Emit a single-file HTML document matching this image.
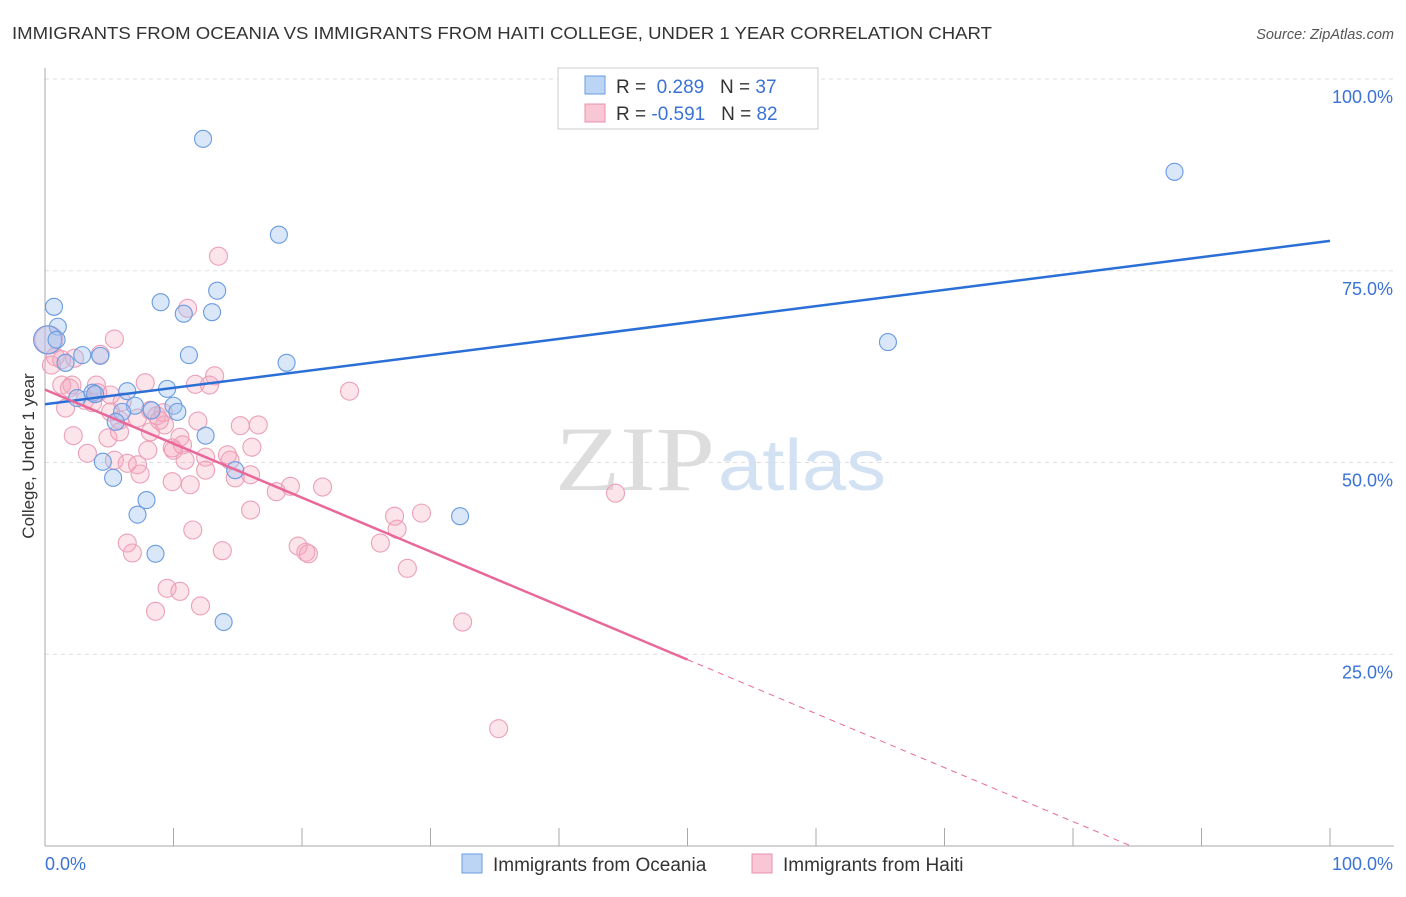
<!DOCTYPE html>
<html><head><meta charset="utf-8"><style>
body{margin:0;background:#fff;font-family:"Liberation Sans",sans-serif;}
svg text{font-family:"Liberation Sans",sans-serif;}
</style></head><body>
<svg id="chart" width="1406" height="892">
<text x="12" y="39" font-size="17.5" fill="#333" textLength="980" lengthAdjust="spacingAndGlyphs">IMMIGRANTS FROM OCEANIA VS IMMIGRANTS FROM HAITI COLLEGE, UNDER 1 YEAR CORRELATION CHART</text>
<text x="1394" y="39" font-size="14.5" fill="#555" font-style="italic" text-anchor="end">Source: ZipAtlas.com</text>
<g id="grid"></g>
<g><text x="555" y="490" font-size="92" fill="#ddd" textLength="160" lengthAdjust="spacingAndGlyphs" style="font-family:'Liberation Serif',serif">ZIP</text><text x="718" y="490" font-size="72" fill="#d3e2f3" textLength="168" lengthAdjust="spacingAndGlyphs">atlas</text></g>
<g id="pts"></g>
<g id="trend"></g>
<text transform="translate(34,456) rotate(-90)" font-size="17" fill="#333" text-anchor="middle">College, Under 1 year</text>
<g>
<rect x="558" y="68" width="260" height="61" fill="#fff" stroke="#ccc"/>
<rect x="585" y="76" width="20" height="18" fill="#bcd5f5" stroke="#6a9be0"/>
<rect x="585" y="104" width="20" height="18" fill="#f9c6d6" stroke="#e890ab"/>
<text x="616" y="93" font-size="19" fill="#333">R = <tspan fill="#3a72d8">&#160;0.289</tspan>&#160;&#160;&#160;N = <tspan fill="#3a72d8">37</tspan></text>
<text x="616" y="120" font-size="19" fill="#333">R = <tspan fill="#3a72d8">-0.591</tspan>&#160;&#160;&#160;N = <tspan fill="#3a72d8">82</tspan></text>
</g>
<g>
<rect x="462" y="854" width="20" height="19" fill="#bcd5f5" stroke="#6a9be0"/>
<text x="493" y="871" font-size="19" fill="#333">Immigrants from Oceania</text>
<rect x="752" y="854" width="20" height="19" fill="#f9c6d6" stroke="#e890ab"/>
<text x="783" y="871" font-size="19" fill="#333">Immigrants from Haiti</text>
</g>
</svg>
<script>
const blueX=[12.3,87.9,18.2,0.7,1.0,9.0,13.4,10.8,13.0,0.2,2.9,4.3,1.6,11.2,18.8,6.4,9.5,2.5,3.7,7.0,10.0,6.0,10.3,5.5,8.3,12.5,14.8,4.5,5.3,7.9,7.2,32.3,8.6,13.9,65.6,3.9,0.9];
const blueY=[92.2,87.9,79.7,70.3,67.7,70.9,72.4,69.4,69.6,66.0,64.0,63.9,63.0,64.0,63.0,59.3,59.6,58.4,59.1,57.4,57.4,56.6,56.6,55.3,56.8,53.5,49.0,50.1,48.0,45.1,43.2,43.0,38.1,29.2,65.7,58.9,66.0];
const pinkX=[13.5,11.1,5.4,0.3,0.8,2.3,4.3,0.5,1.3,2.1,4.0,5.1,3.1,7.8,11.7,13.2,12.8,23.7,1.6,3.7,5.1,6.0,8.2,8.7,9.2,5.8,7.2,9.3,11.9,16.6,15.2,2.2,4.9,5.8,8.2,10.5,3.3,5.4,6.4,7.2,8.0,10.0,9.9,10.9,12.5,14.4,16.1,7.4,12.5,14.8,9.9,11.3,19.1,21.6,18.0,16.0,27.2,29.3,27.4,11.5,6.4,6.8,13.8,19.7,20.3,20.5,26.1,28.2,9.5,10.5,8.6,12.1,32.5,44.4,35.3,1.9,4.1,8.9,14.2,16.0,10.7,1.3];
const pinkY=[76.9,70.1,66.1,66.0,63.8,63.6,64.1,62.7,60.1,60.1,60.1,58.8,58.1,60.4,60.2,61.3,60.1,59.3,57.1,57.8,56.6,57.9,56.8,56.1,56.5,55.5,55.8,54.9,55.4,54.9,54.8,53.5,53.2,54.0,54.0,53.3,51.2,50.3,49.9,49.7,51.6,51.6,51.9,50.3,50.7,50.3,52.0,48.5,49.0,48.0,47.5,47.1,46.9,46.8,46.2,43.8,43.0,43.4,41.3,41.2,39.5,38.2,38.5,39.1,38.3,38.1,39.5,36.2,33.6,33.2,30.6,31.3,29.2,46.0,15.3,59.7,59.1,55.5,51.0,48.4,52.3,63.4];
const blueTrend=[57.6,78.9];
const pinkTrend=[59.5,-0.704];
const yTicks=[100,75,50,25];
const xTickLabels=["0.0%","100.0%"];

const NS="http://www.w3.org/2000/svg";
const X=v=>45+v*12.85, Y=v=>846-v*7.67;
function mk(tag,attrs,parent){const e=document.createElementNS(NS,tag);for(const k in attrs)e.setAttribute(k,attrs[k]);parent.appendChild(e);return e;}
const grid=document.getElementById('grid');
yTicks.forEach(t=>{
  const l=mk('line',{x1:45,x2:1394,y1:Y(t),y2:Y(t),stroke:'#ddd','stroke-dasharray':'4,4'},grid);
  
  
  const tx=mk('text',{x:1393,y:Y(t)+24,'font-size':18,fill:'#3a72d8','text-anchor':'end'},grid);
  tx.textContent=t.toFixed(1)+'%';
  
  
});
mk('line',{x1:45,x2:45,y1:68,y2:846,stroke:'#aaa'},grid);
mk('line',{x1:45,x2:1394,y1:846,y2:846,stroke:'#aaa'},grid);
for(let i=0;i<=10;i++){mk('line',{x1:X(i*10),x2:X(i*10),y1:828,y2:846,stroke:'#aaa'},grid);}
const xl=mk('text',{x:45,y:870,'font-size':18,fill:'#3a72d8'},grid);xl.textContent=xTickLabels[0];


const xr=mk('text',{x:1393,y:870,'font-size':18,fill:'#3a72d8','text-anchor':'end'},grid);xr.textContent=xTickLabels[1];



const pts=document.getElementById('pts');
pinkX.forEach((v,i)=>{
  const c=mk('circle',{cx:X(v),cy:Y(pinkY[i]),r:(v<0.6&&pinkY[i]>65)?14:9,fill:'rgba(245,165,190,0.3)',stroke:'#ec9fb8','stroke-width':1.1},pts);
  
  
});
blueX.forEach((v,i)=>{
  const c=mk('circle',{cx:X(v),cy:Y(blueY[i]),r:(v<0.3&&blueY[i]>65)?14:8.5,fill:'rgba(160,195,240,0.4)',stroke:'#6a9be0','stroke-width':1.1},pts);
  
  
});
const tr=document.getElementById('trend');
const bl=mk('line',{x1:X(0),y1:Y(blueTrend[0]),x2:X(100),y2:Y(blueTrend[1]),stroke:'#2a6fd6','stroke-width':2.5},tr);


const pf=x=>pinkTrend[0]+pinkTrend[1]*x;
const xEnd=-pinkTrend[0]/pinkTrend[1];
const pl=mk('line',{x1:X(0),y1:Y(pf(0)),x2:X(50),y2:Y(pf(50)),stroke:'#e8689a','stroke-width':2.5},tr);


const pd=mk('line',{x1:X(50),y1:Y(pf(50)),x2:X(xEnd),y2:Y(0),stroke:'#e8689a','stroke-width':1,'stroke-dasharray':'6,5'},tr);


</script>
</body></html>
